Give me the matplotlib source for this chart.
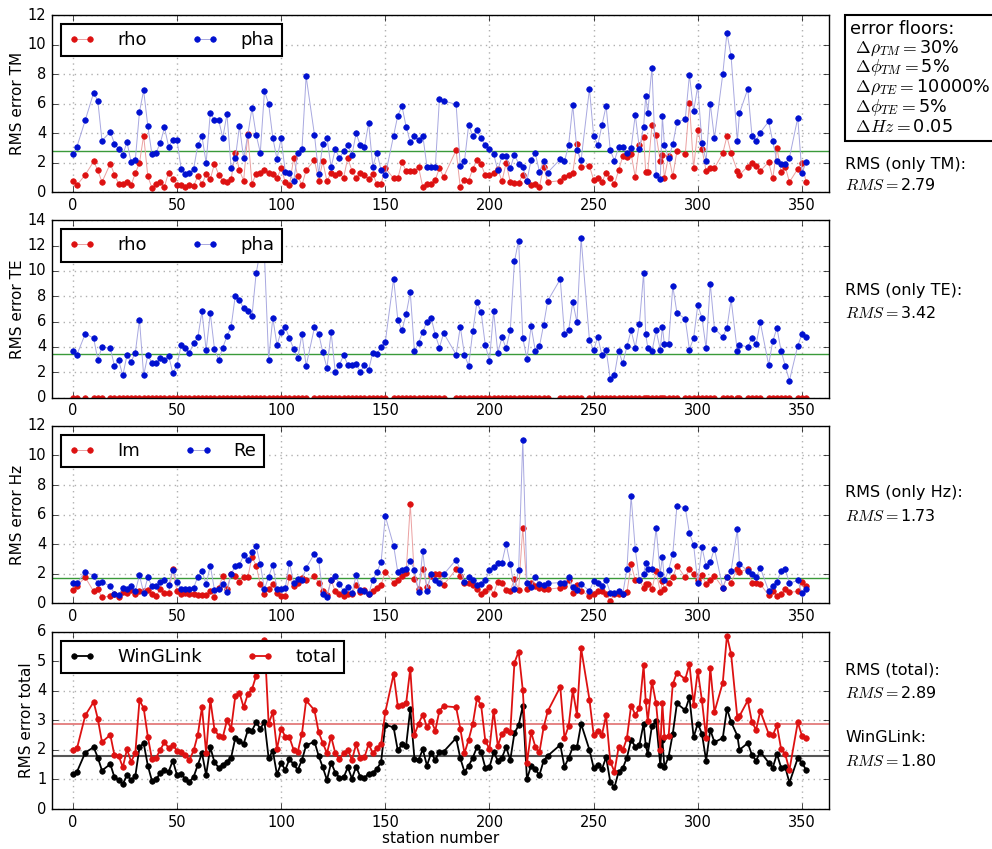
import numpy as np
import matplotlib
matplotlib.use("Agg")
import matplotlib.pyplot as plt

plt.style.use("classic")
plt.rcParams["figure.facecolor"] = "white"
plt.rcParams["savefig.facecolor"] = "white"
plt.rcParams["mathtext.fontset"] = "cm"

# station numbers (shared by all panels)
stations = [0, 2, 6, 10, 12, 14, 18, 20, 22, 24,
            26, 28, 30, 32, 34, 36, 38, 40, 42, 44,
            46, 48, 50, 52, 54, 56, 58, 60, 62, 64,
            66, 68, 70, 72, 74, 76, 78, 80, 82, 84,
            86, 88, 90, 92, 94, 96, 98, 100, 102, 104,
            106, 108, 110, 112, 116, 118, 120, 122, 124, 126,
            128, 130, 132, 134, 136, 138, 140, 142, 144, 146,
            148, 150, 154, 156, 158, 160, 162, 164, 166, 168,
            170, 172, 174, 176, 178, 184, 186, 188, 190, 192,
            194, 196, 198, 200, 202, 204, 206, 208, 210, 212,
            214, 216, 218, 220, 222, 224, 226, 228, 234, 236,
            238, 240, 242, 244, 248, 250, 252, 254, 256, 258,
            260, 262, 264, 266, 268, 270, 272, 274, 275, 276,
            278, 280, 282, 283, 284, 286, 288, 290, 294, 296,
            298, 300, 302, 304, 306, 308, 312, 314, 316, 319,
            320, 324, 326, 328, 330, 334, 336, 338, 340, 342,
            344, 348, 350, 352]

tm_pha = [2.57, 3.1, 4.9, 6.75, 6.2, 3.5, 4.1, 3.3, 2.95, 2.55,
          3.4, 2.05, 2.2, 5.45, 6.9, 4.5, 2.57, 2.7, 3.35, 4.4,
          3.1, 3.55, 3.55, 1.6, 1.25, 1.3, 1.6, 3.2, 3.8, 2.0,
          5.4, 4.9, 4.9, 3.7, 5.3, 1.65, 2.3, 4.5, 2.3, 3.9,
          5.7, 3.9, 2.7, 6.85, 6.0, 3.7, 2.27, 3.65, 1.4, 1.3,
          0.75, 2.7, 2.95, 7.85, 3.9, 1.25, 3.25, 3.7, 1.7, 2.95,
          2.3, 2.8, 3.2, 2.55, 4.0, 3.2, 3.05, 4.7, 1.75, 2.7,
          1.5, 1.15, 3.85, 5.2, 5.85, 4.45, 3.4, 3.8, 3.55, 3.85,
          1.75, 1.75, 1.7, 6.35, 6.2, 5.95, 1.8, 2.1, 4.55, 3.85,
          4.2, 3.65, 3.2, 2.95, 2.6, 1.5, 2.45, 2.5, 1.65, 2.55,
          1.95, 1.7, 0.8, 2.2, 2.65, 1.4, 2.1, 1.35, 2.25, 2.1,
          3.2, 5.9, 2.85, 2.2, 7.0, 3.85, 3.2, 4.55, 5.85, 2.85,
          2.15, 3.05, 3.05, 2.7, 3.0, 5.25, 2.95, 4.45, 6.5, 5.4,
          8.45, 1.2, 0.9, 5.15, 3.2, 2.3, 3.25, 4.75, 4.95, 7.95,
          5.5, 7.2, 3.35, 2.15, 6.0, 3.65, 8.0, 10.8, 9.2, 3.45,
          5.35, 7.0, 3.85, 3.5, 4.05, 4.8, 3.45, 2.1, 1.9, 1.95,
          2.35, 5.05, 1.3, 2.05]

tm_rho = [0.75, 0.5, 1.2, 2.1, 1.5, 0.7, 1.95, 1.2, 0.6, 0.6,
          0.7, 0.5, 1.3, 2.0, 3.85, 1.1, 0.3, 0.55, 0.7, 0.4,
          1.35, 0.9, 0.5, 0.5, 0.4, 0.5, 0.45, 1.1, 0.55, 1.25,
          0.9, 1.95, 1.2, 0.8, 0.7, 0.9, 2.7, 1.5, 0.8, 3.95,
          0.6, 1.25, 1.3, 1.5, 1.35, 1.25, 0.95, 1.65, 0.7, 0.5,
          2.3, 1.1, 0.5, 1.5, 2.2, 0.8, 2.1, 0.75, 1.35, 1.15,
          1.3, 1.0, 2.35, 1.45, 0.95, 1.35, 1.2, 0.9, 1.25, 0.55,
          0.6, 1.65, 0.95, 0.95, 2.05, 1.45, 1.45, 1.45, 1.7, 0.35,
          0.55, 0.6, 0.85, 1.65, 1.05, 2.85, 0.35, 0.85, 0.8, 1.6,
          2.2, 1.9, 1.15, 1.15, 1.3, 1.6, 0.75, 2.0, 0.7, 0.65,
          0.65, 1.2, 0.75, 0.5, 0.55, 0.4, 1.75, 0.7, 0.8, 1.05,
          1.2, 1.35, 3.3, 1.75, 1.8, 0.85, 1.0, 0.7, 1.35, 1.0,
          0.55, 1.5, 2.45, 2.4, 2.6, 1.05, 3.2, 3.75, 1.4, 1.4,
          4.55, 3.9, 2.1, 2.55, 1.0, 2.5, 1.1, 2.8, 2.6, 6.05,
          1.65, 4.25, 2.95, 1.45, 1.65, 1.65, 2.65, 3.8, 2.65, 1.45,
          1.2, 1.75, 2.0, 1.8, 1.45, 2.05, 0.95, 3.0, 1.4, 1.75,
          0.7, 1.6, 2.0, 0.7]

te_pha = [3.65, 3.4, 5.05, 4.7, 3.0, 4.0, 3.9, 2.5, 2.95, 1.75,
          3.35, 2.85, 3.55, 6.15, 1.75, 3.35, 2.75, 2.75, 3.1, 3.0,
          3.3, 1.95, 2.55, 4.15, 3.9, 3.55, 4.3, 4.75, 6.8, 3.75,
          6.65, 3.85, 3.0, 3.95, 4.85, 5.6, 8.05, 7.7, 7.05, 6.8,
          6.45, 9.8, 11.6, 11.2, 3.0, 6.3, 4.15, 5.2, 5.55, 4.7,
          3.85, 3.1, 5.05, 2.5, 5.55, 5.05, 3.6, 2.35, 5.15, 2.0,
          2.6, 3.35, 2.6, 2.55, 2.65, 2.05, 2.55, 2.2, 3.55, 3.45,
          4.0, 4.4, 9.4, 6.15, 5.3, 6.6, 8.3, 3.65, 4.35, 5.2,
          6.0, 6.3, 4.95, 3.95, 5.1, 3.4, 5.6, 3.4, 2.5, 5.25,
          7.55, 6.75, 4.15, 2.9, 6.8, 3.55, 4.75, 3.9, 5.35, 10.75,
          12.4, 4.7, 3.05, 5.65, 3.7, 4.05, 5.75, 7.65, 9.35, 5.0,
          5.3, 7.55, 5.95, 12.6, 4.55, 3.75, 4.8, 3.35, 3.75, 1.5,
          1.8, 3.7, 2.7, 4.05, 5.3, 3.95, 5.85, 9.85, 5.0, 3.95,
          3.65, 5.3, 3.8, 5.6, 4.2, 4.25, 8.8, 6.7, 6.2, 3.8,
          4.7, 7.3, 6.3, 3.9, 9.0, 5.45, 4.8, 5.5, 7.75, 3.65,
          4.15, 4.0, 4.7, 4.2, 5.95, 2.6, 4.45, 5.5, 3.7, 2.5,
          1.35, 4.1, 5.0, 4.8]

te_rho = [0.0] * len(stations)

hz_re = [1.35, 1.35, 2.15, 1.85, 1.35, 1.45, 1.15, 0.65, 0.55, 1.05,
         1.0, 1.2, 0.8, 1.9, 0.7, 1.75, 1.15, 1.15, 1.45, 1.55,
         1.25, 2.25, 1.45, 1.0, 0.95, 0.95, 1.05, 1.8, 2.2, 1.3,
         2.55, 0.9, 1.0, 1.3, 0.75, 2.0, 2.5, 2.6, 3.25, 2.9,
         3.5, 3.85, 2.65, 0.95, 1.8, 2.6, 1.0, 1.0, 1.05, 2.75,
         1.4, 1.65, 1.55, 2.4, 3.35, 2.95, 0.65, 0.4, 1.6, 1.85,
         1.3, 0.8, 1.1, 0.7, 1.9, 0.9, 0.85, 0.6, 1.6, 2.1,
         2.8, 5.9, 3.9, 2.1, 2.25, 2.3, 2.85, 2.25, 0.75, 3.55,
         0.85, 1.95, 1.55, 1.4, 1.95, 2.95, 2.25, 1.45, 1.75, 1.6,
         1.25, 1.3, 1.55, 2.25, 2.45, 2.75, 2.75, 4.0, 2.65, 0.95,
         2.25, 11.05, 1.4, 1.1, 1.8, 1.3, 1.25, 1.35, 1.4, 1.4,
         1.75, 1.1, 0.9, 1.3, 0.85, 1.5, 1.4, 1.2, 1.55, 0.7,
         0.7, 0.8, 0.65, 2.3, 7.25, 3.65, 1.55, 2.0, 2.7, 2.3,
         2.3, 5.1, 2.0, 3.15, 1.55, 2.25, 3.35, 6.6, 6.45, 4.75,
         3.95, 1.4, 3.8, 2.5, 2.8, 3.7, 1.05, 1.75, 2.2, 5.0,
         2.65, 2.2, 2.0, 1.75, 2.4, 0.85, 1.2, 1.45, 2.2, 2.3,
         1.35, 1.55, 0.7, 1.0]

hz_im = [0.9, 1.2, 1.75, 0.8, 0.95, 0.4, 0.5, 0.65, 0.45, 0.75,
         0.7, 0.9, 0.65, 0.85, 0.85, 0.9, 0.65, 0.5, 0.95, 0.7,
         0.7, 2.3, 0.8, 0.65, 0.7, 0.65, 0.65, 0.55, 0.55, 0.55,
         0.85, 0.45, 1.05, 1.85, 1.0, 2.0, 1.85, 1.45, 1.8, 1.75,
         3.15, 2.55, 1.3, 0.65, 1.0, 1.3, 0.7, 0.5, 0.5, 1.75,
         1.15, 1.35, 1.7, 1.55, 1.85, 1.4, 0.8, 0.55, 1.55, 0.8,
         0.6, 0.5, 0.6, 0.65, 1.25, 0.75, 0.9, 0.6, 0.8, 1.05,
         1.25, 2.15, 1.4, 1.55, 1.85, 2.05, 6.7, 1.65, 1.0, 2.3,
         1.1, 1.85, 2.0, 1.95, 1.25, 2.3, 1.85, 1.4, 1.4, 1.25,
         0.95, 0.6, 0.85, 1.1, 0.65, 1.45, 1.4, 0.9, 0.85, 1.65,
         0.9, 5.1, 1.0, 1.4, 1.2, 1.05, 1.0, 0.95, 1.05, 1.2,
         1.55, 0.7, 1.25, 0.85, 0.5, 0.65, 0.85, 0.8, 0.65, 0.15,
         0.65, 0.65, 0.65, 0.75, 2.65, 1.55, 1.55, 1.05, 1.3, 1.3,
         0.95, 2.2, 0.75, 1.5, 1.0, 1.4, 1.75, 2.55, 1.75, 2.3,
         1.95, 1.6, 1.9, 1.3, 1.55, 1.85, 1.05, 1.8, 1.4, 2.35,
         2.1, 2.35, 1.4, 1.4, 1.3, 0.55, 0.85, 0.5, 0.6, 0.95,
         0.75, 0.8, 1.45, 1.2]

total = [1.98, 2.05, 3.17, 3.62, 3.05, 2.26, 2.51, 1.81, 1.8, 1.41,
         2.02, 1.6, 1.89, 3.67, 3.42, 2.45, 1.68, 1.74, 2.0, 2.26,
         2.06, 2.17, 1.97, 1.94, 1.83, 1.66, 1.98, 2.51, 3.44, 1.89,
         3.7, 2.68, 2.48, 2.43, 3.0, 2.72, 3.82, 3.93, 3.44, 3.88,
         4.05, 4.5, 4.9, 5.72, 2.89, 3.27, 2.03, 2.72, 2.45, 2.42,
         2.0, 1.94, 2.55, 3.67, 3.34, 2.6, 2.23, 1.89, 2.45, 1.89,
         1.68, 1.89, 2.0, 1.66, 2.19, 1.74, 1.75, 2.2, 1.89, 2.06,
         2.2, 3.28, 4.56, 3.48, 3.53, 3.57, 4.75, 2.51, 2.89, 3.19,
         2.77, 2.99, 2.65, 3.33, 3.48, 3.44, 2.72, 1.89, 2.34, 2.88,
         3.74, 3.51, 2.31, 2.03, 3.33, 2.14, 2.55, 2.66, 2.59, 4.95,
         5.32, 4.02, 1.55, 2.6, 2.11, 1.92, 2.76, 3.31, 4.13, 2.4,
         2.8, 4.01, 3.19, 5.43, 3.7, 2.51, 2.65, 2.51, 3.17, 1.6,
         1.26, 2.09, 1.98, 2.4, 3.5, 3.19, 3.4, 4.86, 3.65, 2.97,
         4.31, 3.57, 2.0, 3.59, 2.43, 2.48, 4.22, 4.61, 4.39, 4.9,
         3.53, 4.67, 3.67, 2.4, 4.78, 3.28, 4.27, 5.86, 5.24, 3.08,
         3.14, 3.67, 2.94, 2.68, 3.31, 2.55, 2.49, 2.83, 2.03, 1.85,
         1.32, 2.93, 2.48, 2.4]

winglink = [1.17, 1.26, 1.91, 2.09, 1.74, 1.3, 1.52, 1.07, 0.98, 0.84,
            1.15, 0.98, 1.11, 2.08, 2.23, 1.47, 0.95, 1.0, 1.23, 1.32,
            1.26, 1.64, 1.15, 1.2, 1.01, 0.92, 1.09, 1.49, 1.89, 1.15,
            2.09, 1.58, 1.4, 1.49, 1.6, 1.74, 2.4, 2.31, 2.2, 2.66,
            2.65, 2.93, 2.72, 2.94, 1.72, 1.97, 1.17, 1.55, 1.32, 1.69,
            1.51, 1.32, 1.66, 2.15, 2.28, 1.8, 1.41, 0.98, 1.57, 1.23,
            1.06, 1.07, 1.41, 1.03, 1.43, 1.09, 1.06, 1.2, 1.23, 1.35,
            1.6, 2.85, 2.76, 1.98, 2.19, 2.14, 3.39, 1.69, 1.66, 2.02,
            1.47, 1.89, 1.66, 1.94, 1.94, 2.4, 1.72, 1.26, 1.45, 1.74,
            2.09, 1.94, 1.4, 1.41, 1.92, 1.64, 1.74, 2.09, 1.66, 2.57,
            2.83, 3.48, 1.01, 1.47, 1.34, 1.15, 1.63, 1.8, 2.17, 1.43,
            1.72, 2.09, 2.08, 2.88, 2.0, 1.4, 1.49, 1.35, 1.75, 0.92,
            0.73, 1.26, 1.38, 1.74, 2.34, 2.11, 2.17, 2.89, 2.17, 1.85,
            2.82, 2.97, 1.49, 2.34, 1.41, 1.77, 2.55, 3.57, 3.34, 3.78,
            2.43, 2.89, 2.55, 1.64, 2.68, 2.26, 2.4, 3.39, 2.94, 2.48,
            2.0, 2.23, 1.83, 1.63, 1.94, 1.57, 1.4, 1.86, 1.4, 1.41,
            0.89, 1.72, 1.57, 1.32]

rms_tm = 2.79
rms_te = 3.42
rms_hz = 1.73
rms_total = 2.89
rms_wgl = 1.80

RED = "#dd1111"
BLUE = "#0010d0"

fig = plt.figure(figsize=(9.92, 8.49), dpi=100)

left, width, height = 0.0524, 0.7833, 0.209
bottoms = [0.7733, 0.5316, 0.2894, 0.0471]
axes = [fig.add_axes([left, b, width, height]) for b in bottoms]


def style_axis(ax, ymax, ystep, ylabel):
    ax.set_xlim(-10, 363)
    ax.set_ylim(0, ymax)
    ax.set_xticks(np.arange(0, 351, 50))
    ax.set_yticks(np.arange(0, ymax + 0.1, ystep))
    ax.grid(True, color="#b0b0b0", linestyle=":", linewidth=1)
    ax.set_axisbelow(True)
    ax.tick_params(labelsize=10.5)
    ax.set_ylabel(ylabel, fontsize=11, labelpad=2)


def add_legend(ax):
    leg = ax.legend(loc="upper left", ncol=2, fontsize=13, numpoints=2,
                    handlelength=1.5, handletextpad=1.2, columnspacing=2.5,
                    borderaxespad=0.5, borderpad=0.4)
    leg.get_frame().set_linewidth(1.5)


def light_pair(ax, y_red, y_blue, lab_red, lab_blue, rms):
    ax.axhline(rms, color="#3a9a3a", lw=1)
    ax.plot(stations, y_red, "-o", color="#eba0a0", lw=0.7, ms=4,
            mfc=RED, mec=RED, label=lab_red)
    ax.plot(stations, y_blue, "-o", color="#a8a8e0", lw=0.7, ms=4,
            mfc=BLUE, mec=BLUE, label=lab_blue)
    add_legend(ax)


light_pair(axes[0], tm_rho, tm_pha, "rho", "pha", rms_tm)
style_axis(axes[0], 12, 2, "RMS error TM")

light_pair(axes[1], te_rho, te_pha, "rho", "pha", rms_te)
style_axis(axes[1], 14, 2, "RMS error TE")

light_pair(axes[2], hz_im, hz_re, "Im", "Re", rms_hz)
style_axis(axes[2], 12, 2, "RMS error Hz")

ax = axes[3]
ax.axhline(rms_total, color="#e07070", lw=1.2)
ax.axhline(rms_wgl, color="#555555", lw=1.5)
ax.plot(stations, winglink, "-o", color="black", lw=1.3, ms=4, mec="black",
        label="WinGLink")
ax.plot(stations, total, "-o", color=RED, lw=1.3, ms=4, mec=RED,
        label="total")
add_legend(ax)
style_axis(ax, 6, 1, "RMS error total")
ax.set_xlabel("station number", fontsize=11, labelpad=1)

floors = ("error floors:\n"
          r" $\Delta\rho_{TM}=$30%" "\n"
          r" $\Delta\phi_{TM}=$5%" "\n"
          r" $\Delta\rho_{TE}=$10000%" "\n"
          r" $\Delta\phi_{TE}=$5%" "\n"
          r" $\Delta Hz=$0.05")
fig.text(0.857, 0.976, floors, fontsize=12.7, va="top", ha="left",
         linespacing=0.98,
         bbox=dict(boxstyle="square,pad=0.3", facecolor="white",
                   edgecolor="black", linewidth=1.5))

tx = 0.852
fig.text(tx, 1 - 165 / 849, "RMS (only TM):", fontsize=11.5, va="center")
fig.text(tx, 1 - 185 / 849, r"$RMS=$%.2f" % rms_tm, fontsize=11.5, va="center")
fig.text(tx, 1 - 290 / 849, "RMS (only TE):", fontsize=11.5, va="center")
fig.text(tx, 1 - 313 / 849, r"$RMS=$%.2f" % rms_te, fontsize=11.5, va="center")
fig.text(tx, 1 - 493 / 849, "RMS (only Hz):", fontsize=11.5, va="center")
fig.text(tx, 1 - 516 / 849, r"$RMS=$%.2f" % rms_hz, fontsize=11.5, va="center")
fig.text(tx, 1 - 670 / 849, "RMS (total):", fontsize=11.5, va="center")
fig.text(tx, 1 - 693 / 849, r"$RMS=$%.2f" % rms_total, fontsize=11.5, va="center")
fig.text(tx, 1 - 738 / 849, "WinGLink:", fontsize=11.5, va="center")
fig.text(tx, 1 - 761 / 849, r"$RMS=$%.2f" % rms_wgl, fontsize=11.5, va="center")

fig.savefig("out.png", dpi=100)
